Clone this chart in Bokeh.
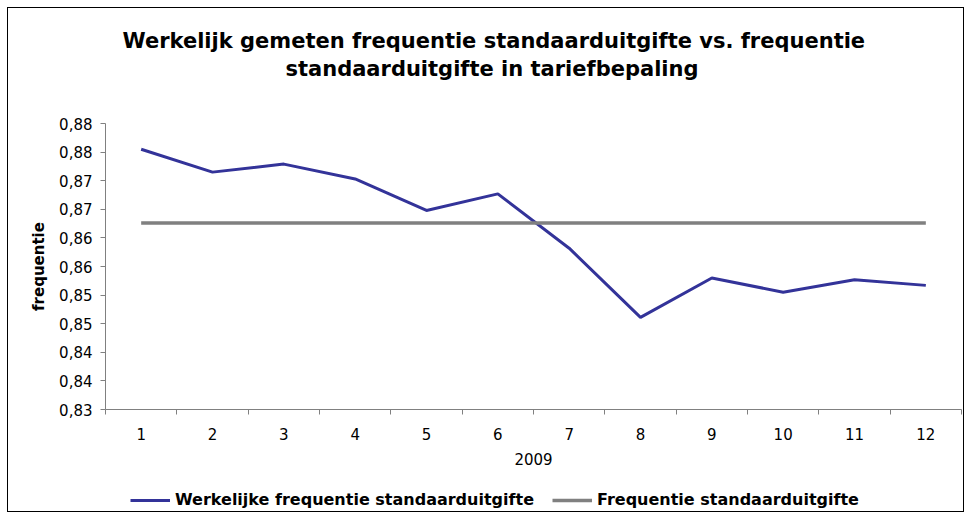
from bokeh.plotting import figure
from bokeh.layouts import column
from bokeh.models import (FixedTicker, CustomJSTickFormatter, Legend, LegendItem,
                          Title, Range1d, ColumnDataSource)
from bokeh.embed import file_html
from bokeh.resources import INLINE

# ---- data ----
months = [1, 2, 3, 4, 5, 6, 7, 8, 9, 10, 11, 12]
month_labels = ["1", "2", "3", "4", "5", "6", "7", "8", "9", "10", "11", "12"]
werkelijk = [0.8755, 0.8715, 0.8729, 0.8703, 0.8648, 0.8677,
             0.8582, 0.8461, 0.8530, 0.8505, 0.8527, 0.8517]
tarief = [0.8626] * 12
y_ticks = [0.830, 0.835, 0.840, 0.845, 0.850, 0.855, 0.860, 0.865, 0.870, 0.875, 0.880]
x_label = "2009"
y_label = "frequentie"
title_lines = ["Werkelijk gemeten frequentie standaarduitgifte vs. frequentie",
               "standaarduitgifte in tariefbepaling"]
series_names = ["Werkelijke frequentie standaarduitgifte", "Frequentie standaarduitgifte"]
series_colors = ["#333399", "#808080"]

FONT = "DejaVu Sans"

p = figure(frame_width=856, frame_height=286,
           output_backend="svg", toolbar_location=None,
           x_range=Range1d(0.5, 12.5), y_range=Range1d(y_ticks[0], y_ticks[-1]),
           min_border_left=97, min_border_right=2, min_border_top=115, min_border_bottom=70)

p.xgrid.visible = False
p.ygrid.visible = False
p.outline_line_color = None
p.background_fill_color = "white"
p.border_fill_color = "white"

src = ColumnDataSource(dict(x=months, w=werkelijk, t=tarief))
r1 = p.line("x", "w", source=src, line_color=series_colors[0], line_width=3)
r2 = p.line("x", "t", source=src, line_color=series_colors[1], line_width=3.5)

# x axis: labels at categories, tick marks between categories
p.xaxis.ticker = FixedTicker(ticks=months,
                             minor_ticks=[m - 0.5 for m in months] + [months[-1] + 0.5])
p.xaxis.major_label_overrides = {m: l for m, l in zip(months, month_labels)}
p.xaxis.major_tick_line_color = None
p.xaxis.minor_tick_line_color = "#808080"
p.xaxis.minor_tick_out = 5
p.xaxis.minor_tick_in = 0
p.xaxis.axis_line_color = "#808080"
p.xaxis.major_label_text_font = FONT
p.xaxis.major_label_text_font_size = "15px"
p.xaxis.major_label_text_color = "black"
p.xaxis.major_label_standoff = 12
p.xaxis.axis_label = x_label
p.xaxis.axis_label_text_font = FONT
p.xaxis.axis_label_text_font_style = "normal"
p.xaxis.axis_label_text_font_size = "15px"
p.xaxis.axis_label_text_color = "black"
p.xaxis.axis_label_standoff = 10

# y axis
p.yaxis.ticker = FixedTicker(ticks=y_ticks, minor_ticks=[])
p.yaxis.formatter = CustomJSTickFormatter(code="""
    const v = Math.round(tick * 100 + 1e-6) / 100;
    return v.toFixed(2).replace('.', ',');
""")
p.yaxis.axis_line_color = "#808080"
p.yaxis.major_tick_line_color = "#808080"
p.yaxis.major_tick_out = 5
p.yaxis.major_tick_in = 0
p.yaxis.major_label_text_font = FONT
p.yaxis.major_label_text_font_size = "15px"
p.yaxis.major_label_text_color = "black"
p.yaxis.major_label_standoff = 8
p.yaxis.axis_label = y_label
p.yaxis.axis_label_text_font = FONT
p.yaxis.axis_label_text_font_style = "bold"
p.yaxis.axis_label_text_font_size = "15px"
p.yaxis.axis_label_text_color = "black"
p.yaxis.axis_label_standoff = 8

# title: a thin spacer next to the frame, then two title lines
p.add_layout(Title(text=" ", text_font_size="1px", standoff=39), "above")
title_offsets = [17, 180]
for line, off in reversed(list(zip(title_lines, title_offsets))):
    p.add_layout(Title(text=line, align="left", offset=off, standoff=2,
                       text_font=FONT, text_font_style="bold",
                       text_font_size="21px", text_color="black"), "above")

# legend strip: a small figure underneath holding the legend.
# Its two series renderers use the same data but lie outside its x range (not visible),
# they only supply the legend swatches.
lg = figure(width=955, height=32, output_backend="svg", toolbar_location=None,
            x_range=Range1d(-1, 0), y_range=Range1d(0, 1),
            x_axis_type=None, y_axis_type=None,
            min_border_left=0, min_border_right=0, min_border_top=0, min_border_bottom=0)
lg.outline_line_color = None
lg.background_fill_color = "white"
lg.border_fill_color = "white"
lr1 = lg.line(months, werkelijk, line_color=series_colors[0], line_width=3)
lr2 = lg.line(months, tarief, line_color=series_colors[1], line_width=3.5)
legend = Legend(items=[LegendItem(label=series_names[0], renderers=[lr1]),
                       LegendItem(label=series_names[1], renderers=[lr2])],
                orientation="horizontal", location=(25, 2),
                label_text_font=FONT, label_text_font_style="bold",
                label_text_font_size="16px", label_text_color="black",
                glyph_width=40, glyph_height=16,
                spacing=18, padding=4, margin=0, border_line_color=None,
                background_fill_alpha=0, label_standoff=5)
lg.add_layout(legend, "center")

layout = column(p, lg, spacing=0)
layout.margin = (7, 0, 0, 7)
layout.styles = {"border": "1px solid #000000"}

open("out.html", "w").write(file_html(layout, INLINE))
